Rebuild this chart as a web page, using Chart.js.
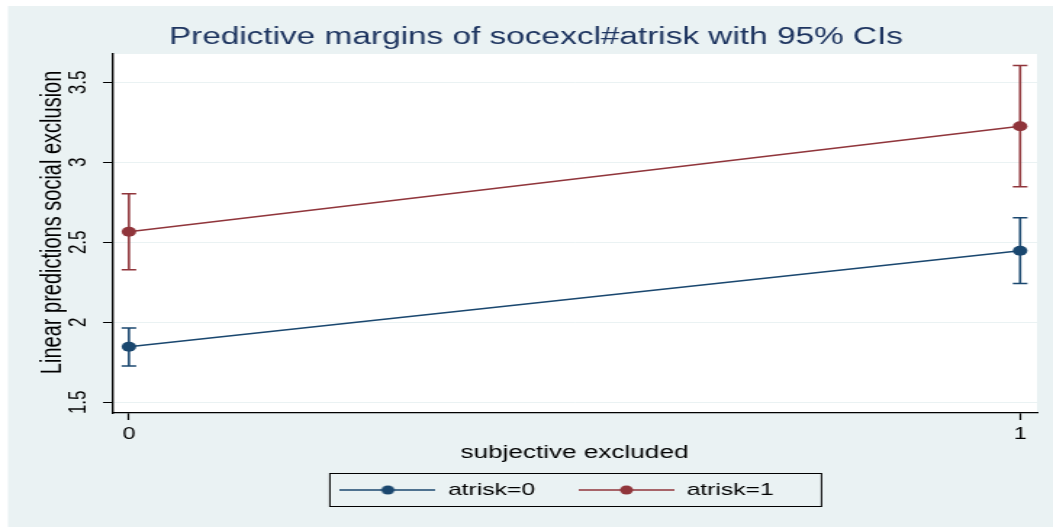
<!DOCTYPE html>
<html>
<head>
<meta charset="utf-8">
<script src="https://cdn.jsdelivr.net/npm/chart.js@4.4.1/dist/chart.umd.min.js"></script>
<style>
  html, body { margin: 0; padding: 0; background: #fff; }
  #chart { display: block; }
</style>
</head>
<body>
<!-- drawn at 726px wide, then stretched to 1053px like the original export -->
<canvas id="chart" width="726" height="527" style="width:1053px;height:527px"></canvas>
<script>
// data
const categories = [0, 1];
const seriesNames = ['atrisk=0', 'atrisk=1'];
const margins0 = [1.847, 2.447];
const lower0 = [1.727, 2.243];
const upper0 = [1.965, 2.653];
const margins1 = [2.566, 3.225];
const lower1 = [2.328, 2.848];
const upper1 = [2.803, 3.605];
const yTicks = [1.5, 2, 2.5, 3, 3.5];

const blue = '#1a476f';
const red = '#90353b';
const bgColor = '#eaf2f3';

Chart.defaults.font.family = '"Liberation Sans", Arial, sans-serif';
Chart.defaults.color = '#000';

function points(xs, ys) {
    return xs.map((x, i) => ({ x: x, y: ys[i] }));
}

function ciSets(lo, hi, color) {
    return categories.map((x, i) => ({
        label: 'ci',
        data: [{ x: x, y: lo[i] }, { x: x, y: hi[i] }],
        borderColor: color,
        borderWidth: 1.6,
        pointStyle: 'line',
        pointRadius: 5,
        pointBorderWidth: 1.5,
        pointBorderColor: color,
        showLine: true
    }));
}

function legendMark(color) {
    const c = document.createElement('canvas');
    c.width = 66;
    c.height = 12;
    const g = c.getContext('2d');
    g.strokeStyle = color;
    g.lineWidth = 1.4;
    g.beginPath();
    g.moveTo(0, 6);
    g.lineTo(66, 6);
    g.stroke();
    g.fillStyle = color;
    g.beginPath();
    g.arc(33, 6, 4.5, 0, Math.PI * 2);
    g.fill();
    return c;
}

const backdrop = {
    id: 'backdrop',
    beforeDraw(chart) {
        const { ctx, width, height, chartArea: a } = chart;
        ctx.save();
        ctx.fillStyle = '#fff';
        ctx.fillRect(0, 0, width, height);
        ctx.fillStyle = bgColor;
        ctx.fillRect(5.5, 6, width - 5.5, height - 6);
        ctx.fillStyle = '#fff';
        ctx.fillRect(a.left, a.top, a.right - a.left, a.bottom - a.top);
        ctx.restore();
    }
};

// legend sits a little left of centre, inside a framed box
const legendFrame = {
    id: 'legendFrame',
    afterLayout(chart) {
        chart.legend.left -= 12.2;
        chart.legend.right -= 12.2;
    },
    afterDraw(chart) {
        const lg = chart.legend;
        const pad = lg.options.labels.padding;
        const start = (lg.left + pad + lg.right - lg.lineWidths[0]) / 2;
        const ctx = chart.ctx;
        ctx.save();
        ctx.strokeStyle = '#000';
        ctx.lineWidth = 1;
        ctx.strokeRect(start - 7, 473.5, 339, 33);
        ctx.restore();
    }
};

new Chart(document.getElementById('chart'), {
    type: 'line',
    data: {
        datasets: [{
            label: seriesNames[0],
            data: points(categories, margins0),
            borderColor: blue,
            backgroundColor: blue,
            borderWidth: 1.4,
            pointRadius: 5,
            pointBorderWidth: 0
        }, {
            label: seriesNames[1],
            data: points(categories, margins1),
            borderColor: red,
            backgroundColor: red,
            borderWidth: 1.4,
            pointRadius: 5,
            pointBorderWidth: 0
        }].concat(ciSets(lower0, upper0, blue), ciSets(lower1, upper1, red))
    },
    options: {
        responsive: false,
        animation: false,
        devicePixelRatio: 1,
        layout: { padding: { left: 24, right: 11, top: 0, bottom: 18.5 } },
        plugins: {
            title: {
                display: true,
                text: 'Predictive margins of socexcl#atrisk with 95% CIs',
                color: '#1e3560',
                font: { size: 23, weight: 'normal' },
                padding: { top: 23.4, bottom: 3 }
            },
            legend: {
                position: 'bottom',
                fullSize: false,
                labels: {
                    usePointStyle: true,
                    pointStyleWidth: 66,
                    padding: 30,
                    font: { size: 17 },
                    color: '#000',
                    generateLabels: () => [
                        { text: seriesNames[0], pointStyle: legendMark(blue), fillStyle: blue, strokeStyle: blue, lineWidth: 0, datasetIndex: 0 },
                        { text: seriesNames[1], pointStyle: legendMark(red), fillStyle: red, strokeStyle: red, lineWidth: 0, datasetIndex: 1 }
                    ]
                }
            },
            tooltip: { enabled: false }
        },
        scales: {
            x: {
                type: 'linear',
                min: -0.019,
                max: 1.019,
                afterBuildTicks: (s) => { s.ticks = categories.map(v => ({ value: v })); },
                afterFit: (s) => { s.height = 38.5; },
                grid: { drawOnChartArea: false, tickLength: 7, tickColor: '#000', tickWidth: 1.2 },
                border: { color: '#000', width: 1.3 },
                ticks: { font: { size: 16 }, padding: 5, color: '#000', callback: (v) => String(v) },
                title: {
                    display: true,
                    text: 'subjective excluded',
                    font: { size: 18 },
                    color: '#000',
                    padding: { top: 0, bottom: -12.3 }
                }
            },
            y: {
                min: 1.433,
                max: 3.677,
                afterBuildTicks: (s) => { s.ticks = yTicks.map(v => ({ value: v })); },
                afterFit: (s) => { s.width = 53.2; },
                grid: { color: bgColor, lineWidth: 1, tickLength: 6.2, tickColor: '#000', tickWidth: 1 },
                border: { color: '#000', width: 1.4 },
                ticks: {
                    font: { size: 17 },
                    color: '#000',
                    minRotation: 90,
                    maxRotation: 90,
                    crossAlign: 'center',
                    padding: 4.6,
                    callback: (v) => String(v)
                },
                title: {
                    display: true,
                    text: '\u00a0\u00a0\u00a0\u00a0Linear predictions social exclusion',
                    font: { size: 20 },
                    color: '#000',
                    padding: { top: 0, bottom: 0 }
                }
            }
        }
    },
    plugins: [backdrop, legendFrame]
});
</script>
</body>
</html>
